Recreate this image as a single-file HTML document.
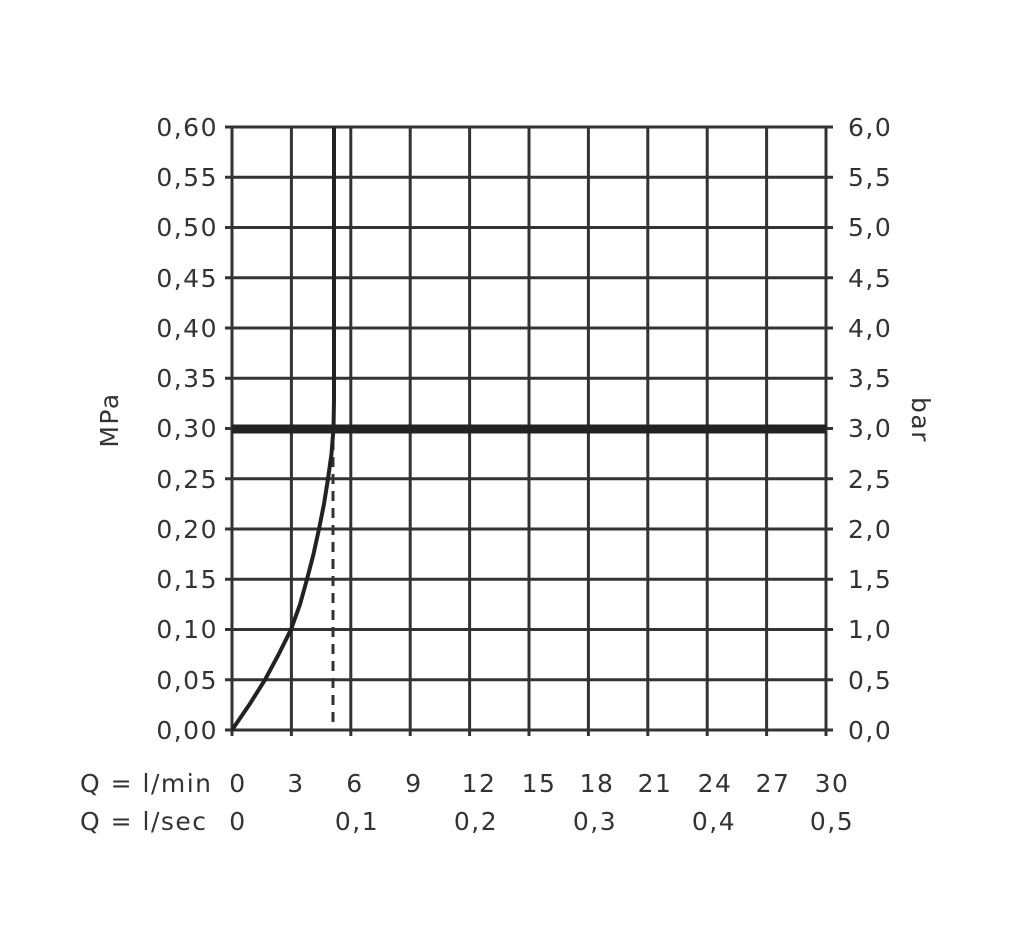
<!DOCTYPE html>
<html><head><meta charset="utf-8"><style>
html,body{margin:0;padding:0;background:#fff;}
svg{display:block}
text{font-family:"DejaVu Sans","Liberation Sans",sans-serif;font-size:25px;fill:#333;letter-spacing:1.5px;}
</style></head><body>
<svg width="1024" height="938" viewBox="0 0 1024 938" xmlns="http://www.w3.org/2000/svg">
<g stroke="#333" stroke-width="3" fill="none">
<line x1="232" y1="127" x2="232" y2="736"/>
<line x1="291.4" y1="127" x2="291.4" y2="736"/>
<line x1="350.8" y1="127" x2="350.8" y2="736"/>
<line x1="410.2" y1="127" x2="410.2" y2="736"/>
<line x1="469.6" y1="127" x2="469.6" y2="736"/>
<line x1="529" y1="127" x2="529" y2="736"/>
<line x1="588.4" y1="127" x2="588.4" y2="736"/>
<line x1="647.8" y1="127" x2="647.8" y2="736"/>
<line x1="707.2" y1="127" x2="707.2" y2="736"/>
<line x1="766.6" y1="127" x2="766.6" y2="736"/>
<line x1="826" y1="127" x2="826" y2="736"/>
<line x1="225" y1="127" x2="833" y2="127"/>
<line x1="225" y1="177.25" x2="833" y2="177.25"/>
<line x1="225" y1="227.5" x2="833" y2="227.5"/>
<line x1="225" y1="277.75" x2="833" y2="277.75"/>
<line x1="225" y1="328" x2="833" y2="328"/>
<line x1="225" y1="378.25" x2="833" y2="378.25"/>
<line x1="225" y1="428.5" x2="833" y2="428.5"/>
<line x1="225" y1="478.75" x2="833" y2="478.75"/>
<line x1="225" y1="529" x2="833" y2="529"/>
<line x1="225" y1="579.25" x2="833" y2="579.25"/>
<line x1="225" y1="629.5" x2="833" y2="629.5"/>
<line x1="225" y1="679.75" x2="833" y2="679.75"/>
<line x1="225" y1="730" x2="833" y2="730"/>
</g>
<line x1="232" y1="429" x2="826" y2="429" stroke="#222" stroke-width="9"/>
<line x1="333" y1="440" x2="333" y2="730" stroke="#333" stroke-width="3" stroke-dasharray="10,7"/>
<polyline points="232,730 249.2,704.9 265,679.75 278.5,654.6 291,629.5 300,604.4 307,579.25 313.5,554.1 319,529 324,503.9 328,478.75 331.5,453.6 333.5,428.5 334,400 334,127" stroke="#222" stroke-width="4" fill="none" stroke-linejoin="round"/>
<g text-anchor="end">
<text x="218" y="136">0,60</text>
<text x="218" y="186">0,55</text>
<text x="218" y="236">0,50</text>
<text x="218" y="287">0,45</text>
<text x="218" y="337">0,40</text>
<text x="218" y="387">0,35</text>
<text x="218" y="437">0,30</text>
<text x="218" y="488">0,25</text>
<text x="218" y="538">0,20</text>
<text x="218" y="588">0,15</text>
<text x="218" y="638">0,10</text>
<text x="218" y="689">0,05</text>
<text x="218" y="739">0,00</text>
</g>
<g>
<text x="848" y="136">6,0</text>
<text x="848" y="186">5,5</text>
<text x="848" y="236">5,0</text>
<text x="848" y="287">4,5</text>
<text x="848" y="337">4,0</text>
<text x="848" y="387">3,5</text>
<text x="848" y="437">3,0</text>
<text x="848" y="488">2,5</text>
<text x="848" y="538">2,0</text>
<text x="848" y="588">1,5</text>
<text x="848" y="638">1,0</text>
<text x="848" y="689">0,5</text>
<text x="848" y="739">0,0</text>
</g>
<text transform="translate(118,420) rotate(-90)" text-anchor="middle">MPa</text>
<text transform="translate(912,420) rotate(90)" text-anchor="middle">bar</text>
<text x="80" y="792">Q = l/min</text>
<text x="80" y="830">Q = l/sec</text>
<g text-anchor="middle">
<text x="238" y="792">0</text>
<text x="296" y="792">3</text>
<text x="355" y="792">6</text>
<text x="414" y="792">9</text>
<text x="479" y="792">12</text>
<text x="539" y="792">15</text>
<text x="597" y="792">18</text>
<text x="655" y="792">21</text>
<text x="715" y="792">24</text>
<text x="773" y="792">27</text>
<text x="832" y="792">30</text>
<text x="238" y="830">0</text>
<text x="357" y="830">0,1</text>
<text x="476" y="830">0,2</text>
<text x="595" y="830">0,3</text>
<text x="714" y="830">0,4</text>
<text x="832" y="830">0,5</text>
</g>
</svg>
</body></html>
